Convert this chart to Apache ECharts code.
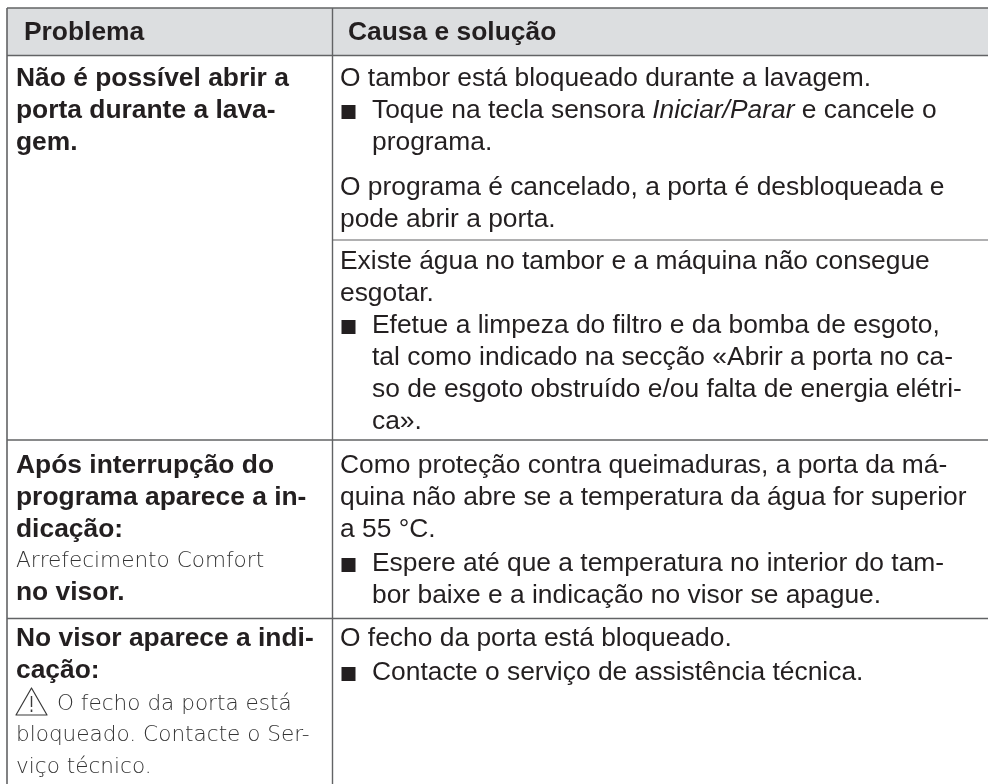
<!DOCTYPE html>
<html><head><meta charset="utf-8">
<style>html,body{margin:0;padding:0;background:#fff}#c{width:988px;height:784px}</style>
<script src="https://cdn.jsdelivr.net/npm/echarts@6/dist/echarts.min.js"></script>
</head><body><div id="c"></div>
<script>
// ---- table content ----
const headers = ['Problema', 'Causa e solução'];
const problem1 = ['Não é possível abrir a', 'porta durante a lava-', 'gem.'];
const problem2a = ['Após interrupção do', 'programa aparece a in-', 'dicação:'];
const problem2b = ['Arrefecimento Comfort'];
const problem2c = ['no visor.'];
const problem3a = ['No visor aparece a indi-', 'cação:'];
const problem3b = ['O fecho da porta está', 'bloqueado. Contacte o Ser-', 'viço técnico.'];
const cause1a = ['O tambor está bloqueado durante a lavagem.'];
const cause1b = ['Toque na tecla sensora {i|Iniciar/Parar} e cancele o', 'programa.'];
const cause1c = ['O programa é cancelado, a porta é desbloqueada e', 'pode abrir a porta.'];
const cause1d = ['Existe água no tambor e a máquina não consegue', 'esgotar.'];
const cause1e = ['Efetue a limpeza do filtro e da bomba de esgoto,', 'tal como indicado na secção «Abrir a porta no ca-', 'so de esgoto obstruído e/ou falta de energia elétri-', 'ca».'];
const cause2a = ['Como proteção contra queimaduras, a porta da má-', 'quina não abre se a temperatura da água for superior', 'a 55 °C.'];
const cause2b = ['Espere até que a temperatura no interior do tam-', 'bor baixe e a indicação no visor se apague.'];
const cause3a = ['O fecho da porta está bloqueado.'];
const cause3b = ['Contacte o serviço de assistência técnica.'];

// ---- layout ----
const W = 988, H = 784;
const LEFT = 7, COL = 332.5, TOP = 8, HEAD = 55.5;
const LH = 31.8;
const rules = [
  {x1: LEFT, y1: TOP, x2: W, y2: TOP, w: 1.6},
  {x1: LEFT, y1: HEAD, x2: W, y2: HEAD, w: 1.4},
  {x1: COL, y1: 240, x2: W, y2: 240, w: 1.2},
  {x1: LEFT, y1: 440, x2: W, y2: 440, w: 1.4},
  {x1: LEFT, y1: 618.5, x2: W, y2: 618.5, w: 1.4},
  {x1: LEFT, y1: TOP, x2: LEFT, y2: H, w: 1.6},
  {x1: COL, y1: TOP, x2: COL, y2: H, w: 1.4}
];
const XL = 16, XR = 340, XB = 372;
const blocks = [
  {lines: [headers[0]], x: 24, y: 33, s: 'b'},
  {lines: [headers[1]], x: 348, y: 33, s: 'b'},
  {lines: problem1, x: XL, y: 79, s: 'b'},
  {lines: problem2a, x: XL, y: 466, s: 'b'},
  {lines: problem2b, x: XL, y: 561, s: 'l'},
  {lines: problem2c, x: XL, y: 593, s: 'b'},
  {lines: problem3a, x: XL, y: 639, s: 'b'},
  {lines: problem3b, x: XL, y: 704, s: 'l', indent0: 41},
  {lines: cause1a, x: XR, y: 79, s: 'n'},
  {lines: cause1b, x: XB, y: 111, s: 'n', bullet: 1},
  {lines: cause1c, x: XR, y: 187.5, s: 'n'},
  {lines: cause1d, x: XR, y: 262, s: 'n'},
  {lines: cause1e, x: XB, y: 326, s: 'n', bullet: 1},
  {lines: cause2a, x: XR, y: 466, s: 'n'},
  {lines: cause2b, x: XB, y: 564, s: 'n', bullet: 1},
  {lines: cause3a, x: XR, y: 639, s: 'n'},
  {lines: cause3b, x: XB, y: 673, s: 'n', bullet: 1}
];
const FONT = 'Liberation Sans';
const styles = {
  b: {fontFamily: FONT, fontWeight: 'bold', fontSize: 26.4, fill: '#231f20'},
  n: {fontFamily: FONT, fontWeight: 'normal', fontSize: 26.4, fill: '#231f20'},
  l: {fontFamily: 'DejaVu Sans', fontWeight: 200, fontSize: 21.6, fill: '#333333'}
};
const textItems = [];
const bullets = [];
blocks.forEach(b => {
  b.lines.forEach((t, i) => {
    textItems.push([b.x + (i === 0 && b.indent0 ? b.indent0 : 0), b.y + i * LH, t, b.s]);
  });
  if (b.bullet) bullets.push([XR + 1.5, b.y + 1]);
});
const warn = [16, 702];

const chart = echarts.init(document.getElementById('c'), null, {renderer: 'canvas'});
chart.setOption({
  animation: false,
  backgroundColor: '#ffffff',
  grid: {left: 0, right: 0, top: 0, bottom: 0},
  xAxis: {type: 'value', min: 0, max: W, show: false},
  yAxis: {type: 'value', min: 0, max: H, inverse: true, show: false},
  series: [
    { // header band
      type: 'custom', coordinateSystem: 'cartesian2d', silent: true, z: 1,
      data: [[LEFT, TOP, W, HEAD]],
      renderItem(p, api) {
        const a = api.coord([api.value(0), api.value(1)]), c = api.coord([api.value(2), api.value(3)]);
        return {type: 'rect', shape: {x: a[0], y: a[1], width: c[0] - a[0], height: c[1] - a[1]}, style: {fill: '#dcdee0'}};
      }
    },
    { // rules
      type: 'custom', coordinateSystem: 'cartesian2d', silent: true, z: 2,
      data: rules.map(r => [r.x1, r.y1, r.x2, r.y2, r.w]),
      renderItem(p, api) {
        const a = api.coord([api.value(0), api.value(1)]), c = api.coord([api.value(2), api.value(3)]);
        return {type: 'line', shape: {x1: a[0], y1: a[1], x2: c[0], y2: c[1]}, style: {stroke: '#626365', lineWidth: api.value(4)}};
      }
    },
    { // bullets
      type: 'custom', coordinateSystem: 'cartesian2d', silent: true, z: 3,
      data: bullets,
      renderItem(p, api) {
        const a = api.coord([api.value(0), api.value(1)]);
        return {type: 'rect', shape: {x: a[0], y: a[1] - 7, width: 14, height: 14}, style: {fill: '#231f20'}};
      }
    },
    { // warning icon
      type: 'custom', coordinateSystem: 'cartesian2d', silent: true, z: 3,
      data: [warn],
      renderItem(p, api) {
        const a = api.coord([api.value(0), api.value(1)]);
        const x = a[0], y = a[1];
        return {type: 'group', children: [
          {type: 'polygon', shape: {points: [[x + 15.5, y - 14], [x + 31, y + 13], [x, y + 13]]}, style: {fill: 'none', stroke: '#3a3a3a', lineWidth: 1.2, lineJoin: 'round'}},
          {type: 'line', shape: {x1: x + 15.5, y1: y - 6, x2: x + 15.5, y2: y + 5}, style: {stroke: '#3a3a3a', lineWidth: 1.4}},
          {type: 'line', shape: {x1: x + 15.5, y1: y + 7.5, x2: x + 15.5, y2: y + 10}, style: {stroke: '#3a3a3a', lineWidth: 1.6}}
        ]};
      }
    },
    { // text lines
      type: 'custom', coordinateSystem: 'cartesian2d', silent: true, z: 4,
      encode: {x: 0, y: 1},
      data: textItems,
      renderItem(p, api) {
        const it = textItems[p.dataIndex];
        const a = api.coord([it[0], it[1]]);
        const st = styles[it[3]];
        return {type: 'text', x: a[0], y: a[1], style: {
          text: it[2].indexOf('{i|') >= 0 ? it[2].replace(/^([^{]+)/, '{n|$1}').replace(/\}([^{}]+)$/, '}{n|$1}') : it[2],
          fontFamily: st.fontFamily, fontWeight: st.fontWeight, fontSize: st.fontSize, fill: st.fill,
          verticalAlign: 'middle', align: 'left',
          rich: {
            n: {fontFamily: st.fontFamily, fontSize: st.fontSize, fill: st.fill, color: st.fill},
            i: {fontFamily: st.fontFamily, fontSize: st.fontSize, fontStyle: 'italic', fill: st.fill, color: st.fill}
          }
        }};
      }
    }
  ]
});
</script></body></html>
